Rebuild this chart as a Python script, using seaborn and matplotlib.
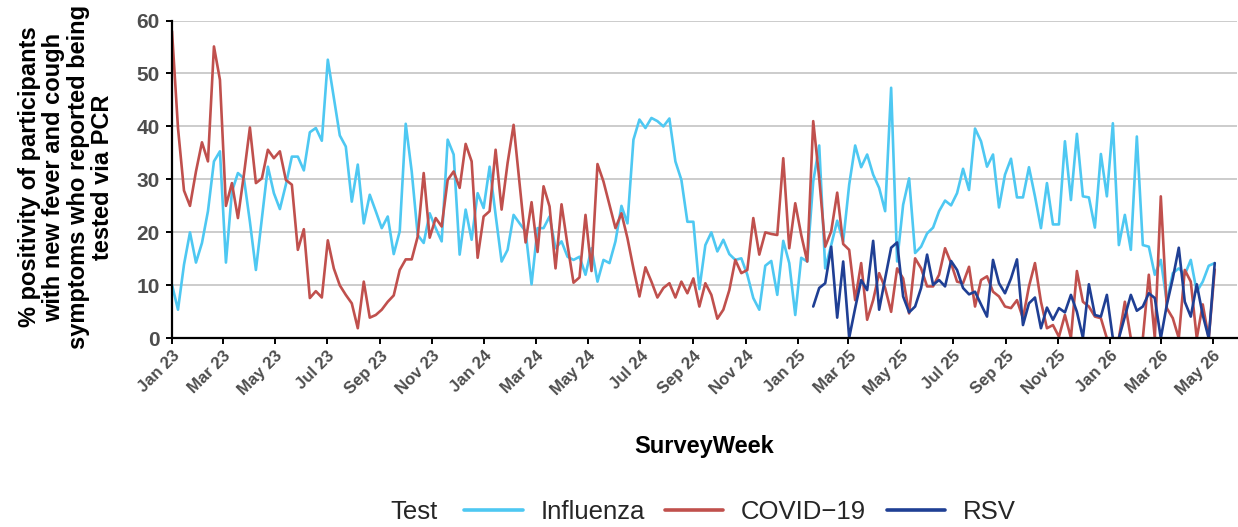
import matplotlib
matplotlib.use('Agg')
import matplotlib.pyplot as plt
import matplotlib.dates as mdates
from matplotlib.lines import Line2D
import seaborn as sns
import pandas as pd

# Semanas de encuesta (semanal, desde el 1 de enero de 2023)
semanas = pd.date_range('2023-01-01', periods=175, freq='7D')

influenza = [10.1, 5.4, 13.9, 20.0, 14.3, 18.0, 24.0, 33.4, 35.3, 14.3,
             27.7, 31.2, 30.2, 22.0, 12.9, 22.7, 32.4, 27.4, 24.4, 29.0,
             34.3, 34.3, 31.7, 38.9, 39.7, 37.3, 52.6, 45.4, 38.3, 36.2,
             25.8, 32.8, 21.7, 27.1, 24.0, 20.8, 23.0, 15.9, 20.2, 40.5,
             31.5, 19.5, 18.0, 23.6, 20.8, 18.3, 37.5, 34.7, 15.8, 24.3,
             18.6, 27.4, 24.6, 32.4, 23.3, 14.5, 16.7, 23.3, 21.7, 20.2,
             10.2, 20.8, 20.8, 23.0, 17.0, 18.3, 15.4, 14.8, 15.4, 12.0,
             17.0, 10.7, 14.8, 14.2, 18.3, 25.0, 21.7, 37.5, 41.3, 39.7,
             41.6, 41.0, 40.0, 41.5, 33.4, 29.9, 22.0, 22.0, 9.3, 17.6,
             20.0, 16.4, 18.6, 15.9, 14.8, 15.1, 12.0, 7.6, 5.4, 13.7,
             14.6, 8.2, 18.4, 14.2, 4.4, 15.2, 14.5, 29.6, 36.4, 13.2,
             17.6, 22.2, 18.3, 29.0, 36.4, 32.3, 34.7, 30.9, 28.4, 24.0,
             47.3, 14.5, 25.2, 30.2, 16.1, 17.3, 19.8, 20.9, 24.0, 26.0,
             25.1, 27.4, 32.0, 28.0, 39.6, 37.2, 32.4, 34.7, 24.7, 30.9,
             33.9, 26.6, 26.6, 32.3, 26.8, 20.8, 29.3, 21.5, 21.5, 37.2,
             26.1, 38.6, 26.8, 26.6, 20.9, 34.8, 26.8, 40.6, 17.6, 23.3,
             16.7, 38.1, 17.6, 17.3, 12.0, 14.8, 6.9, 12.3, 13.2, 12.0,
             14.8, 8.8, 10.7, 13.7, 14.2]

covid = [58.0, 39.7, 27.9, 25.0, 31.5, 37.0, 33.4, 55.1, 48.8, 25.0,
         29.3, 22.7, 30.9, 39.8, 29.3, 30.2, 35.6, 34.0, 35.3, 29.9,
         29.0, 16.7, 20.6, 7.6, 8.9, 7.7, 18.5, 13.2, 10.0, 8.2,
         6.6, 1.9, 10.7, 3.9, 4.4, 5.4, 6.9, 8.1, 12.9, 14.9,
         14.9, 19.2, 31.2, 19.0, 22.7, 21.1, 29.9, 31.5, 28.4, 36.7,
         33.4, 15.2, 23.0, 24.0, 35.6, 24.3, 33.1, 40.3, 29.3, 18.1,
         25.7, 16.3, 28.7, 24.9, 13.2, 25.3, 17.6, 10.5, 11.5, 23.3,
         12.7, 32.9, 29.6, 25.2, 20.8, 23.6, 18.9, 13.2, 7.9, 13.4,
         10.7, 7.7, 9.5, 10.4, 7.7, 10.7, 8.5, 11.3, 6.0, 10.4,
         8.2, 3.7, 5.4, 9.1, 14.8, 12.3, 12.9, 22.7, 15.8, 20.0,
         19.7, 19.5, 34.0, 17.0, 25.5, 19.5, 14.5, 41.0, 30.2, 17.3,
         20.2, 27.5, 17.8, 16.7, 7.2, 14.2, 3.5, 7.2, 12.3, 9.5,
         5.0, 13.2, 11.3, 4.7, 15.1, 13.2, 9.8, 9.8, 12.0, 17.0,
         14.2, 10.7, 10.4, 13.5, 6.0, 11.0, 11.7, 8.8, 7.9, 6.0,
         5.7, 7.2, 3.8, 9.8, 14.2, 6.9, 1.9, 2.5, 0.3, 4.4,
         0.1, 12.7, 6.9, 6.0, 4.1, 3.8, 0.0, 0.0, 0.0, 6.9,
         0.0, 0.0, 0.0, 12.0, 0.0, 26.8, 5.7, 3.8, 0.0, 12.9,
         10.7, 0.0, 6.4, 0.0, 13.0]

# RSV solo se registra desde la semana 107 (enero 2025)
rsv_inicio = 107
rsv = [6.0, 9.5, 10.4, 17.3, 3.9, 14.5, 0.1, 5.7, 11.0, 9.1,
       18.4, 5.4, 11.3, 17.1, 18.1, 7.9, 4.9, 6.0, 9.5, 15.8,
       10.1, 11.0, 9.8, 14.6, 12.9, 9.5, 8.3, 8.8, 6.4, 4.1,
       14.8, 10.4, 8.5, 11.3, 14.9, 2.5, 6.6, 7.7, 1.9, 5.8,
       3.5, 5.7, 4.9, 8.2, 5.0, 0.1, 10.2, 4.4, 4.1, 8.2,
       0.0, 0.0, 4.1, 8.2, 5.2, 6.0, 8.5, 7.6, 0.0, 6.3,
       11.3, 17.1, 6.9, 4.1, 10.2, 4.4, 0.0, 14.2]

tests = ['Influenza', 'COVID\u221219', 'RSV']
colores = {'Influenza': '#4EC8F2', 'COVID\u221219': '#C0504D', 'RSV': '#1F3F94'}

df = pd.concat([
    pd.DataFrame({'SurveyWeek': semanas, 'pct': influenza, 'Test': tests[0]}),
    pd.DataFrame({'SurveyWeek': semanas, 'pct': covid, 'Test': tests[1]}),
    pd.DataFrame({'SurveyWeek': semanas[rsv_inicio:], 'pct': rsv, 'Test': tests[2]}),
], ignore_index=True)

sns.set_style('white')
plt.rcParams['font.family'] = ['Liberation Sans', 'DejaVu Sans']

W, H = 1238, 527
fig = plt.figure(figsize=(W / 100, H / 100), dpi=100)
ax = fig.add_axes([172 / W, 1 - 338.3 / H, (1237 - 172) / W, (338.3 - 20.5) / H])

sns.lineplot(data=df, x='SurveyWeek', y='pct', hue='Test', hue_order=tests,
             palette=colores, estimator=None, linewidth=1.9, legend=False, ax=ax)

ax.set_ylim(0, 60)
ax.set_xlim(pd.Timestamp('2023-01-01'), pd.Timestamp('2026-05-29'))
ax.set_yticks(range(0, 61, 10))
ax.xaxis.set_major_locator(mdates.MonthLocator(bymonth=[1, 3, 5, 7, 9, 11]))
ax.xaxis.set_major_formatter(mdates.DateFormatter('%b %y'))

ax.grid(True, axis='y', color='#CCCCCC', linewidth=1.4)
ax.grid(False, axis='x')
ax.set_axisbelow(True)
for lado in ['top', 'right']:
    ax.spines[lado].set_visible(False)
for lado in ['left', 'bottom']:
    ax.spines[lado].set_color('black')
    ax.spines[lado].set_linewidth(1.6)

ax.tick_params(axis='both', which='major', length=4, width=1.4, color='black',
               direction='out', bottom=True, left=True)
ax.tick_params(axis='y', labelsize=15, labelcolor='#4D4D4D', pad=5)
ax.tick_params(axis='x', labelsize=12, labelcolor='#4D4D4D', pad=3)
for lbl in ax.get_yticklabels():
    lbl.set_fontweight('bold')
for lbl in ax.get_xticklabels():
    lbl.set_fontweight('bold')
    lbl.set_rotation(45)
    lbl.set_ha('right')
    lbl.set_va('top')
    lbl.set_rotation_mode('anchor')

ax.set_xlabel('SurveyWeek', fontsize=17, fontweight='bold', color='black')
ax.xaxis.set_label_coords(0.5, -0.305)
ax.xaxis.label.set_va('top')
ax.set_ylabel('')
fig.text(66 / W, 1 - 177 / H,
         '% positivity of participants\nwith new fever and cough\nsymptoms who reported being\ntested via PCR',
         rotation=90, ha='center', va='center', multialignment='center',
         fontsize=17, fontweight='bold', color='black', linespacing=1.07)

# Leyenda inferior con el título "Test" a la izquierda
manejadores = [Line2D([0], [0], color=colores[t], linewidth=2.6) for t in tests]
fig.legend(manejadores, tests, loc='center', bbox_to_anchor=(740 / W, 1 - 512 / H),
           ncol=3, frameon=False, fontsize=18.5, handlelength=2.27,
           handletextpad=0.69, columnspacing=0.8, borderpad=0)
fig.text(390 / W, 1 - 512 / H, 'Test', ha='left', va='center', fontsize=18.5)

fig.savefig('out.png', dpi=100)
